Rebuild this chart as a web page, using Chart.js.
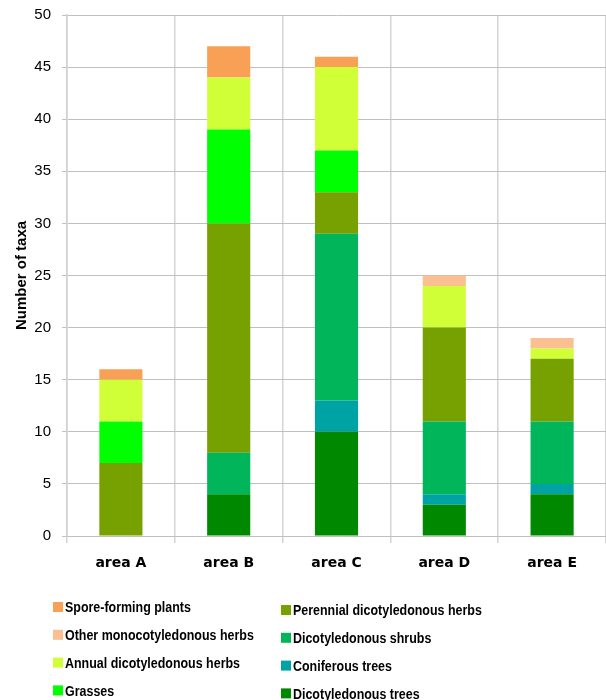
<!DOCTYPE html>
<html>
<head>
<meta charset="utf-8">
<script src="https://cdn.jsdelivr.net/npm/chart.js@4.4.1/dist/chart.umd.min.js"></script>
<style>
  html, body { margin: 0; padding: 0; background: #ffffff; }
  #wrap { width: 606px; height: 700px; position: relative; }
</style>
</head>
<body>
<div id="wrap"><canvas id="c" width="606" height="700"></canvas></div>
<script>
// ---- data ----
const categories = ['area A', 'area B', 'area C', 'area D', 'area E'];
const dicotyledonousTrees   = [0, 4, 10, 3, 4];
const coniferousTrees       = [0, 0, 3, 1, 1];
const dicotyledonousShrubs  = [0, 4, 16, 7, 6];
const perennialDicotHerbs   = [7, 22, 4, 9, 6];
const grasses               = [4, 9, 4, 0, 0];
const annualDicotHerbs      = [4, 5, 8, 4, 1];
const otherMonocotHerbs     = [0, 0, 0, 1, 1];
const sporeFormingPlants    = [1, 3, 1, 0, 0];
const yTicks = [0, 5, 10, 15, 20, 25, 30, 35, 40, 45, 50];

const seriesNames = [
  'Dicotyledonous trees', 'Coniferous trees', 'Dicotyledonous shrubs',
  'Perennial dicotyledonous herbs', 'Grasses', 'Annual dicotyledonous herbs',
  'Other monocotyledonous herbs', 'Spore-forming plants'
];
const seriesValues = [
  dicotyledonousTrees, coniferousTrees, dicotyledonousShrubs,
  perennialDicotHerbs, grasses, annualDicotHerbs,
  otherMonocotHerbs, sporeFormingPlants
];
const seriesColors = [
  '#008800', '#00A3A3', '#00B55A', '#76A100',
  '#00FF00', '#D0FF38', '#FAC091', '#F8A055'
];

const datasets = seriesNames.map((name, i) => ({
  label: name,
  data: seriesValues[i],
  backgroundColor: seriesColors[i],
  borderWidth: 0,
  barPercentage: 0.40,
  categoryPercentage: 1.0
}));

const legendFont = 'bold 15px "Liberation Sans", Arial, sans-serif';
const legendCondense = 0.83;

const legendPlugin = {
  id: 'customLegend',
  afterDraw(chart) {
    const ctx = chart.ctx;
    const ds = chart.data.datasets;
    const order = ds.map((d, i) => i).reverse();
    const cols = [
      { boxX: 53, textX: 65, y0: 607 },
      { boxX: 281, textX: 293, y0: 610 }
    ];
    const rowH = 27.8;
    ctx.save();
    ctx.font = legendFont;
    ctx.textBaseline = 'middle';
    ctx.textAlign = 'left';
    order.forEach((idx, k) => {
      const col = cols[Math.floor(k / 4)];
      const row = k % 4;
      const cy = col.y0 + row * rowH;
      ctx.fillStyle = ds[idx].backgroundColor;
      ctx.fillRect(col.boxX, cy - 5, 10, 10);
      ctx.fillStyle = '#000000';
      const w = ctx.measureText(ds[idx].label).width;
      ctx.fillText(ds[idx].label, col.textX, cy + 1, w * legendCondense);
    });
    ctx.restore();
  }
};

new Chart(document.getElementById('c'), {
  type: 'bar',
  data: { labels: categories, datasets: datasets },
  options: {
    responsive: false,
    animation: false,
    layout: { padding: { top: 15, right: 0, bottom: 120, left: 0 } },
    plugins: {
      legend: { display: false },
      tooltip: { enabled: false }
    },
    scales: {
      x: {
        stacked: true,
        grid: { color: '#D4D4D4', lineWidth: 1.5, tickLength: 7, offset: true },
        border: { color: '#C0C0C0', width: 1 },
        ticks: {
          color: '#000000',
          padding: 12,
          font: { family: '"DejaVu Sans", sans-serif', size: 14, weight: 'bold' }
        },
        afterFit(scale) { scale.height = 44; scale.paddingLeft = 0; scale.paddingRight = 0; }
      },
      y: {
        stacked: true,
        min: 0, max: 50,
        afterBuildTicks(scale) { scale.ticks = yTicks.map(v => ({ value: v })); },
        grid: { color: '#C0C0C0', lineWidth: 1, tickLength: 5 },
        border: { color: '#D0D0D0', width: 1.5 },
        ticks: {
          color: '#000000',
          padding: 11,
          font: { family: '"Liberation Sans", sans-serif', size: 15 }
        },
        title: {
          display: true,
          text: 'Number of taxa',
          color: '#000000',
          font: { family: '"Liberation Sans", sans-serif', size: 15, weight: 'bold' },
          padding: { top: 13, bottom: 0 }
        },
        afterFit(scale) { scale.width = 67; scale.paddingTop = 0; scale.paddingBottom = 0; }
      }
    }
  },
  plugins: [legendPlugin]
});
</script>
</body>
</html>
